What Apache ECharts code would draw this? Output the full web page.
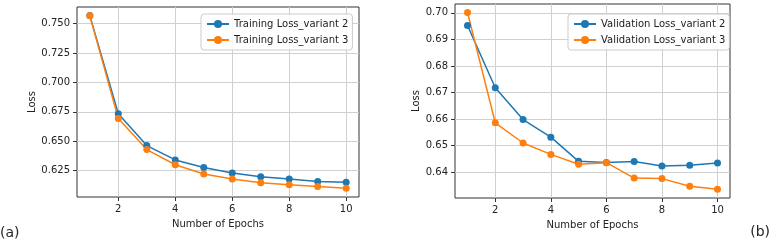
<!DOCTYPE html>
<html>
<head>
<meta charset="utf-8">
<script src="https://cdn.jsdelivr.net/npm/echarts@6/dist/echarts.min.js"></script>
<style>
html, body { margin: 0; padding: 0; background: #fff; }
#chart { width: 771px; height: 243px; }
</style>
</head>
<body>
<div id="chart"></div>
<script>
// values
const epochs = [1, 2, 3, 4, 5, 6, 7, 8, 9, 10]
const trainV2 = [0.7568, 0.6735, 0.6464, 0.6342, 0.6278, 0.6230, 0.6199, 0.6179, 0.6158, 0.6152]
const trainV3 = [0.7566, 0.6693, 0.6430, 0.6301, 0.6222, 0.6179, 0.6148, 0.6131, 0.6116, 0.6102]
const valV2 = [0.6952, 0.6718, 0.6598, 0.6532, 0.6441, 0.6437, 0.6440, 0.6423, 0.6426, 0.6435]
const valV3 = [0.7001, 0.6586, 0.6510, 0.6467, 0.6430, 0.6436, 0.6378, 0.6376, 0.6347, 0.6336]
const xTicks = [2, 4, 6, 8, 10]
const trainTicks = [0.625, 0.650, 0.675, 0.700, 0.725, 0.750]
const valTicks = [0.64, 0.65, 0.66, 0.67, 0.68, 0.69, 0.70]

const BLUE = '#1f77b4'
const ORANGE = '#ff7f0e'
const TEXT = '#222'
const FONT = 'DejaVu Sans'

const chart = echarts.init(document.getElementById('chart'))

function xAxisFor(gridIndex) {
  return {
    type: 'value',
    gridIndex: gridIndex,
    min: 0.55,
    max: 10.45,
    name: 'Number of Epochs',
    nameLocation: 'middle',
    nameGap: 22,
    nameTextStyle: { fontSize: 10, color: TEXT, fontFamily: FONT },
    axisLine: { show: false },
    axisTick: { show: true, customValues: xTicks, length: 4, lineStyle: { color: '#333' } },
    axisLabel: { customValues: xTicks, fontSize: 10, color: TEXT, fontFamily: FONT, margin: 7 },
    splitLine: { show: true, lineStyle: { color: '#d0d0d0', width: 1 } },
  }
}

function yAxisFor(gridIndex, min, max, ticks, digits, gap) {
  return {
    type: 'value',
    gridIndex: gridIndex,
    min: min,
    max: max,
    name: 'Loss',
    nameLocation: 'middle',
    nameGap: gap,
    nameTextStyle: { fontSize: 10, color: TEXT, fontFamily: FONT },
    axisLine: { show: false },
    axisTick: { show: true, customValues: ticks, length: 4, lineStyle: { color: '#333' } },
    axisLabel: {
      customValues: ticks, fontSize: 10, color: TEXT, fontFamily: FONT, margin: 7,
      formatter: v => v.toFixed(digits),
    },
    splitLine: { show: true, lineStyle: { color: '#d0d0d0', width: 1 } },
  }
}

function lineSeries(name, xi, values, color) {
  return {
    type: 'line',
    name: name,
    xAxisIndex: xi,
    yAxisIndex: xi,
    data: epochs.map((e, i) => [e, values[i]]),
    symbol: 'circle',
    symbolSize: 7,
    lineStyle: { width: 1.5, color: color },
    itemStyle: { color: color },
    emphasis: { disabled: true },
  }
}

function legendFor(names, left) {
  return {
    data: names,
    orient: 'vertical',
    left: left,
    top: 14,
    padding: [4, 4, 4, 5],
    itemGap: 4,
    itemWidth: 22,
    itemHeight: 10,
    backgroundColor: 'rgba(255,255,255,0.85)',
    borderColor: '#cccccc',
    borderWidth: 1,
    borderRadius: 3,
    textStyle: { fontSize: 10, color: TEXT, fontFamily: FONT, lineHeight: 12 },
  }
}

const option = {
  animation: false,
  backgroundColor: '#fff',
  textStyle: { fontFamily: FONT },
  grid: [
    { left: 77, top: 7, width: 282, height: 190, show: true, borderColor: '#333', borderWidth: 1, backgroundColor: 'transparent' },
    { left: 455, top: 4, width: 275, height: 194, show: true, borderColor: '#333', borderWidth: 1, backgroundColor: 'transparent' },
  ],
  xAxis: [xAxisFor(0), xAxisFor(1)],
  yAxis: [
    yAxisFor(0, 0.6027, 0.7641, trainTicks, 3, 38),
    yAxisFor(1, 0.6303, 0.7033, valTicks, 2, 31),
  ],
  legend: [
    legendFor(['Training Loss_variant 2', 'Training Loss_variant 3'], 201),
    legendFor(['Validation Loss_variant 2', 'Validation Loss_variant 3'], 568),
  ],
  series: [
    lineSeries('Training Loss_variant 2', 0, trainV2, BLUE),
    lineSeries('Training Loss_variant 3', 0, trainV3, ORANGE),
    lineSeries('Validation Loss_variant 2', 1, valV2, BLUE),
    lineSeries('Validation Loss_variant 3', 1, valV3, ORANGE),
  ],
  graphic: [
    { type: 'text', left: 0, top: 226, style: { text: '(a)', fontSize: 14, fill: TEXT, fontFamily: FONT } },
    { type: 'text', right: 1, top: 225, style: { text: '(b)', fontSize: 14, fill: TEXT, fontFamily: FONT } },
  ],
}

chart.setOption(option)
</script>
</body>
</html>
